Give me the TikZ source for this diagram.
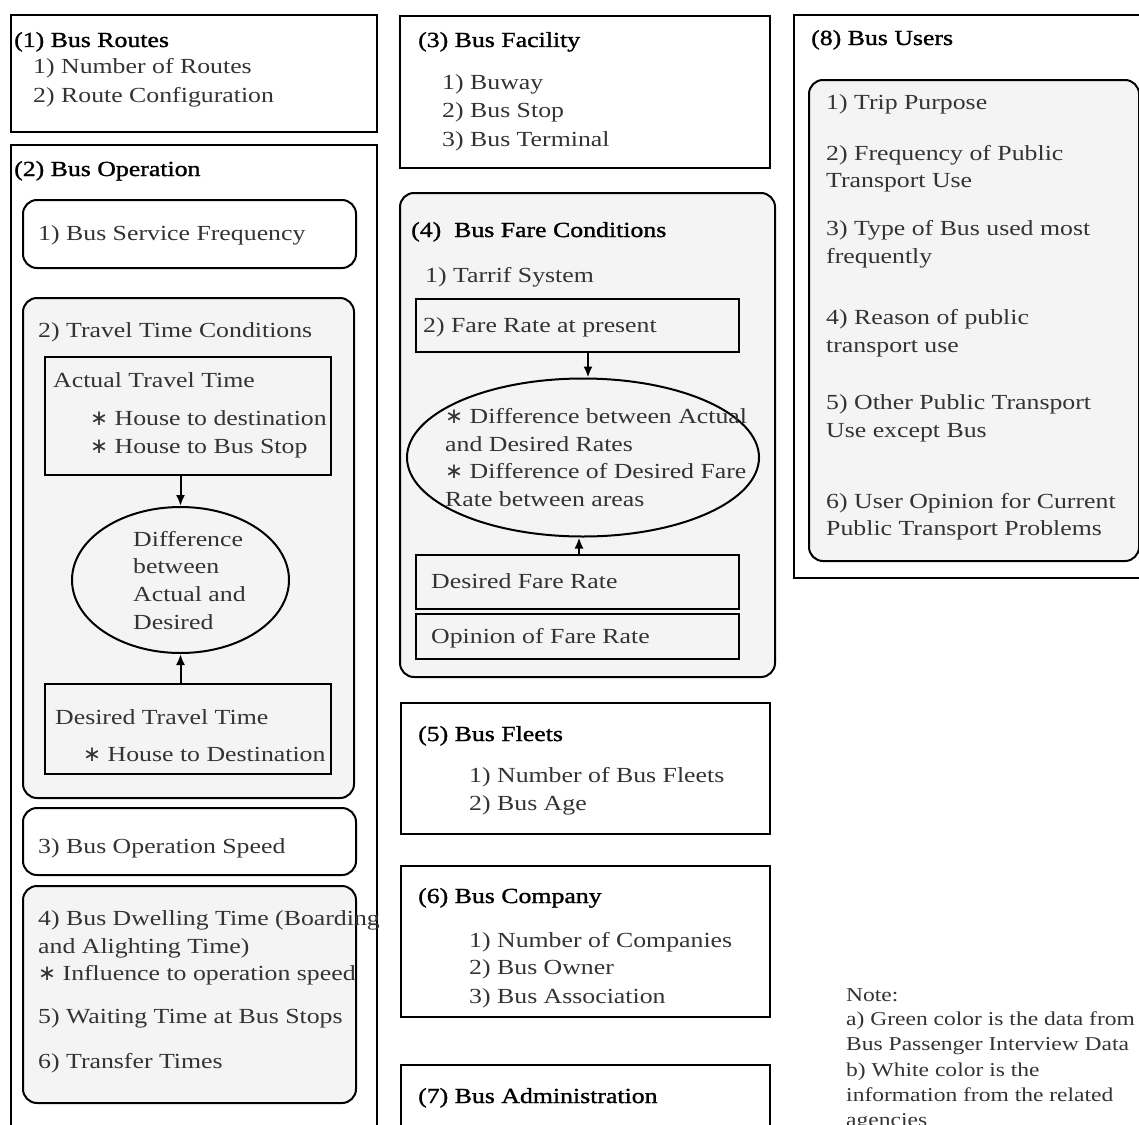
\documentclass[tikz,border=0pt]{standalone}
\usepackage{fontspec}
\setmainfont[FakeStretch=1.2]{Liberation Serif}
\newfontfamily\ttlfamily[FakeStretch=1.2,FakeBold=1.3]{Liberation Serif}
\newfontfamily\symfamily{DejaVu Sans}
\usetikzlibrary{arrows.meta,shapes.geometric}
\definecolor{boxgray}{HTML}{F4F4F4}
\definecolor{bodytxt}{HTML}{333333}
\newcommand\myast{{\symfamily ∗}}
\tikzset{
  bx/.style={draw=black, line width=2pt, inner sep=0pt, fill=white, anchor=north west},
  rbx/.style={bx, rounded corners=14pt},
  gry/.style={fill=boxgray},
  txt/.style={anchor=base west, inner sep=0pt, text=bodytxt, font=\fontsize{21.5pt}{28pt}\selectfont},
  ntxt/.style={anchor=base west, inner sep=0pt, text=bodytxt, font=\fontsize{19.6pt}{25pt}\selectfont},
  ttl/.style={anchor=base west, inner sep=0pt, text=black, font=\ttlfamily\fontsize{21.5pt}{28pt}\selectfont},
  ell/.style={draw=black, line width=2pt, ellipse, inner sep=0pt, fill=boxgray},
  arr/.style={line width=2pt, -{Latex[length=11pt,width=9pt]}}
}
\newcommand\mytxt[4]{\node[txt] (#1) at (#2,#3) {#4};}
\newcommand\myttl[4]{\node[ttl] (#1) at (#2,#3) {#4};}
\newcommand\mynote[4]{\node[ntxt] (#1) at (#2,#3) {#4};}
\begin{document}
\begin{tikzpicture}[x=1pt,y=-1pt]
\useasboundingbox (0,0) rectangle (1139,1124);
\clip (0,0) rectangle (1139,1124);
% ---------- column 1
\node[bx, minimum width=366pt, minimum height=117pt] (b1) at (10,14) {};
\myttl{t1}{14}{47}{(1) Bus Routes}
\mytxt{t1a}{33}{74}{1) Number of Routes}
\mytxt{t1b}{33}{102}{2) Route Configuration}

\node[bx, minimum width=366pt, minimum height=1000pt] (b2) at (10,144) {};
\myttl{t2}{14}{176}{(2) Bus Operation}
\node[rbx, minimum width=333pt, minimum height=68pt] (b2a) at (22,199) {};
\mytxt{t2a}{38}{240}{1) Bus Service Frequency}
\node[rbx, gry, minimum width=331pt, minimum height=500pt] (b2b) at (22,297) {};
\mytxt{t2b}{38}{337}{2) Travel Time Conditions}
\node[bx, gry, minimum width=286pt, minimum height=118pt] (act) at (44,356) {};
\mytxt{t2c}{53}{387}{Actual Travel Time}
\mytxt{t2d}{90}{425}{\myast\ House to destination}
\mytxt{t2e}{90}{453}{\myast\ House to Bus Stop}
\node[ell, minimum width=217pt, minimum height=146pt] (diff) at (180.5,580) {};
\mytxt{t2f}{133}{546}{Difference}
\mytxt{t2g}{133}{573}{between}
\mytxt{t2h}{133}{601}{Actual and}
\mytxt{t2i}{133}{629}{Desired}
\node[bx, gry, minimum width=286pt, minimum height=90pt] (des) at (44,683) {};
\mytxt{t2j}{55}{724}{Desired Travel Time}
\mytxt{t2k}{83}{761}{\myast\ House to Destination}
\draw[arr] (diff.north |- act.south) -- (diff.north);
\draw[arr] (diff.south |- des.north) -- (diff.south);
\node[rbx, minimum width=333pt, minimum height=67pt] (b2c) at (22,807) {};
\mytxt{t2l}{38}{853}{3) Bus Operation Speed}
\node[rbx, gry, minimum width=333pt, minimum height=217pt] (b2d) at (22,885) {};
\mytxt{t2m}{38}{925}{4) Bus Dwelling Time (Boarding}
\mytxt{t2n}{38}{953}{and Alighting Time)}
\mytxt{t2o}{38}{980}{\myast\ Influence to operation speed}
\mytxt{t2p}{38}{1023}{5) Waiting Time at Bus Stops}
\mytxt{t2q}{38}{1068}{6) Transfer Times}
% ---------- column 2
\node[bx, minimum width=370pt, minimum height=152pt] (b3) at (399,15) {};
\myttl{t3}{418}{47}{(3) Bus Facility}
\mytxt{t3a}{442}{89}{1) Buway}
\mytxt{t3b}{442}{117}{2) Bus Stop}
\mytxt{t3c}{442}{146}{3) Bus Terminal}

\node[rbx, gry, minimum width=375pt, minimum height=484pt] (b4) at (399,192) {};
\myttl{t4}{411}{237}{(4)\ \ Bus Fare Conditions}
\mytxt{t4a}{425}{282}{1) Tarrif System}
\node[bx, gry, minimum width=323pt, minimum height=53pt] (fnow) at (415,298) {};
\mytxt{t4b}{423}{332}{2) Fare Rate at present}
\node[ell, minimum width=352pt, minimum height=158pt] (fell) at (583,457.5) {};
\mytxt{t4c}{445}{423}{\myast\ Difference between Actual}
\mytxt{t4d}{445}{451}{and Desired Rates}
\mytxt{t4e}{445}{478}{\myast\ Difference of Desired Fare}
\mytxt{t4f}{445}{506}{Rate between areas}
\node[bx, gry, minimum width=323pt, minimum height=54pt] (fdes) at (415,554) {};
\mytxt{t4g}{431}{588}{Desired Fare Rate}
\node[bx, gry, minimum width=323pt, minimum height=45pt] (fop) at (415,613) {};
\mytxt{t4h}{431}{643}{Opinion of Fare Rate}
\draw[arr] ([xshift=5pt]fell.north |- fnow.south) -- ([xshift=5pt]fell.north);
\draw[arr] ([xshift=-4pt]fell.south |- fdes.north) -- ([xshift=-4pt]fell.south);

\node[bx, minimum width=369pt, minimum height=131pt] (b5) at (400,702) {};
\myttl{t5}{418}{741}{(5) Bus Fleets}
\mytxt{t5a}{469}{782}{1) Number of Bus Fleets}
\mytxt{t5b}{469}{810}{2) Bus Age}

\node[bx, minimum width=369pt, minimum height=151pt] (b6) at (400,865) {};
\myttl{t6}{418}{903}{(6) Bus Company}
\mytxt{t6a}{469}{947}{1) Number of Companies}
\mytxt{t6b}{469}{974}{2) Bus Owner}
\mytxt{t6c}{469}{1003}{3) Bus Association}

\node[bx, minimum width=369pt, minimum height=100pt] (b7) at (400,1064) {};
\myttl{t7}{418}{1103}{(7) Bus Administration}
% ---------- column 3
\node[bx, minimum width=360pt, minimum height=563pt] (b8) at (793,14) {};
\myttl{t8}{811}{45}{(8) Bus Users}
\node[rbx, gry, minimum width=330pt, minimum height=481pt] (b8a) at (808,79) {};
\mytxt{t8a}{826}{109}{1) Trip Purpose}
\mytxt{t8b}{826}{160}{2) Frequency of Public}
\mytxt{t8c}{826}{187}{Transport Use}
\mytxt{t8d}{826}{235}{3) Type of Bus used most}
\mytxt{t8e}{826}{263}{frequently}
\mytxt{t8f}{826}{324}{4) Reason of public}
\mytxt{t8g}{826}{352}{transport use}
\mytxt{t8h}{826}{409}{5) Other Public Transport}
\mytxt{t8i}{826}{437}{Use except Bus}
\mytxt{t8j}{826}{508}{6) User Opinion for Current}
\mytxt{t8k}{826}{535}{Public Transport Problems}
% ---------- note
\mynote{n1}{846}{1001}{Note:}
\mynote{n2}{846}{1025}{a) Green color is the data from}
\mynote{n3}{846}{1050}{Bus Passenger Interview Data}
\mynote{n4}{846}{1076}{b) White color is the}
\mynote{n5}{846}{1101}{information from the related}
\mynote{n6}{846}{1126}{agencies}
\end{tikzpicture}
\end{document}
